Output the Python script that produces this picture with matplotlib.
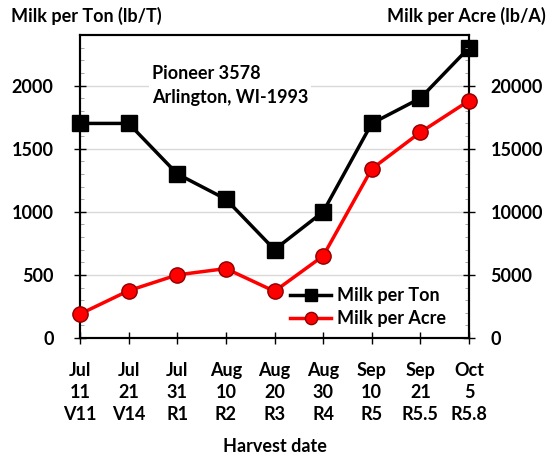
import matplotlib
matplotlib.use("Agg")
import matplotlib.pyplot as plt
from matplotlib.ticker import MultipleLocator

plt.rcParams['font.family'] = ['Lato', 'DejaVu Sans']
plt.rcParams['font.weight'] = 'bold'
plt.rcParams['axes.labelweight'] = 'bold'

months = ["Jul", "Jul", "Jul", "Aug", "Aug", "Aug", "Sep", "Sep", "Oct"]
days = ["11", "21", "31", "10", "20", "30", "10", "21", "5"]
stages = ["V11", "V14", "R1", "R2", "R3", "R4", "R5", "R5.5", "R5.8"]
milk_per_ton = [1700, 1700, 1300, 1100, 700, 1000, 1700, 1900, 2300]
milk_per_acre = [1900, 3750, 5000, 5500, 3700, 6500, 13400, 16300, 18800]

FS = 13

fig = plt.figure(figsize=(5.48, 4.59), dpi=100)
ax = fig.add_axes([0.146, 0.2636, 0.7099, 0.660])
ax2 = ax.twinx()

x = list(range(len(months)))
labels = [f"{m}\n{d}\n{s}" for m, d, s in zip(months, days, stages)]

ln1, = ax.plot(x, milk_per_ton, color='black', lw=2.5, marker='s', markersize=11.5,
               clip_on=False, zorder=5, label='Milk per Ton')
ln2, = ax2.plot(x, milk_per_acre, color='#ff0000', lw=2.5, marker='o', markersize=11,
                markerfacecolor='#ff0000', markeredgecolor='#8b0000', markeredgewidth=1,
                clip_on=False, zorder=5, label='Milk per Acre')

ax.set_xlim(0, 8)
ax.set_ylim(0, 2400)
ax2.set_ylim(0, 24000)
ax.set_xticks(x)
ax.set_xticklabels(labels, fontsize=FS, linespacing=1.36)
ax.yaxis.set_major_locator(MultipleLocator(500))
ax.yaxis.set_minor_locator(MultipleLocator(100))
ax2.yaxis.set_major_locator(MultipleLocator(5000))
ax2.yaxis.set_minor_locator(MultipleLocator(1000))
ax.grid(axis='y', color='#d9d9d9', lw=1)
ax.set_axisbelow(True)

ax.tick_params(axis='both', which='major', direction='inout', length=8, width=1, labelsize=FS)
ax.tick_params(axis='x', pad=13)
ax.tick_params(axis='y', pad=15)
ax.tick_params(axis='y', which='minor', direction='in', length=3, color='#999999')
ax2.tick_params(axis='y', which='major', direction='inout', length=8, width=1, labelsize=FS, pad=11.5)
ax2.tick_params(axis='y', which='minor', direction='in', length=3, color='#999999')

for a in (ax, ax2):
    for s in a.spines.values():
        s.set_linewidth(1.5)

ax.set_xlabel("Harvest date", fontsize=FS, labelpad=11, fontweight='bold')
fig.text(0.02, 0.965, "Milk per Ton (lb/T)", fontsize=FS, ha='left', va='center')
fig.text(0.995, 0.965, "Milk per Acre (lb/A)", fontsize=FS, ha='right', va='center')

ax.text(0.185, 0.9, "Pioneer 3578\nArlington, WI-1993", transform=ax.transAxes,
        fontsize=FS, ha='left', va='top', linespacing=1.45,
        bbox=dict(facecolor='white', edgecolor='none', pad=2), zorder=3)

ax2.legend([ln1, ln2], ['Milk per Ton', 'Milk per Acre'], loc='lower right',
           bbox_to_anchor=(0.972, -0.005), frameon=False,
           prop={'size': FS, 'weight': 'bold'}, handlelength=2.3, borderpad=0.2,
           labelspacing=0.3, handletextpad=0.28, markerscale=0.8)

fig.savefig("out.png", dpi=100)
